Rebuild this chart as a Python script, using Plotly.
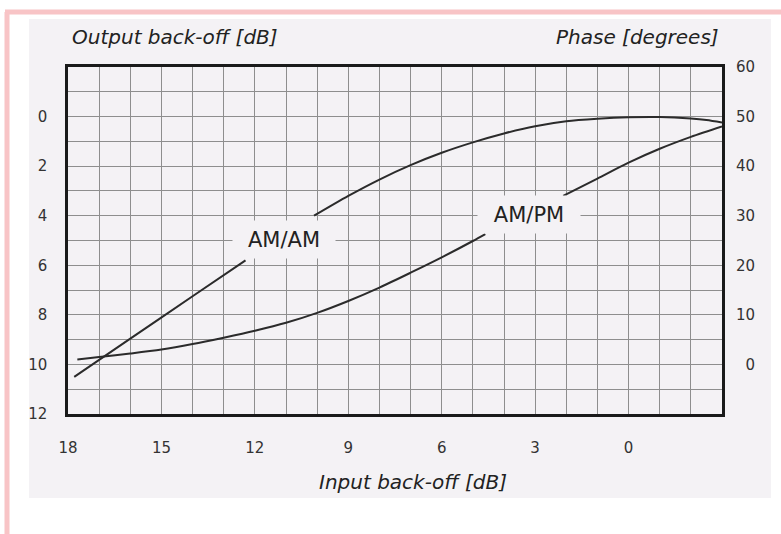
import plotly.graph_objects as go

# ---- data ----
input_backoff_amam = [17.8, 16, 14, 12.3, None, 10.1, 9, 8, 7, 6, 5, 4, 3, 2, 1, 0, -1, -2, -2.5, -3]
output_backoff = [10.5, 8.96, 7.25, 5.8, None, 4.0, 3.2, 2.54, 1.96, 1.46, 1.04, 0.68, 0.39, 0.19, 0.09, 0.03, 0.02, 0.08, 0.14, 0.24]

input_backoff_ampm = [17.7, 17, 16, 15, 14, 13, 12, 11, 10, 9, 8, 7, 6, 5, 4.6, None, 2.1, 1, 0, -1, -2, -3]
phase_deg = [1.0, 1.5, 2.2, 3.0, 4.1, 5.4, 6.8, 8.4, 10.4, 12.8, 15.5, 18.5, 21.6, 24.9, 26.3, None, 34.0, 37.5, 40.7, 43.5, 45.9, 48.0]

x_ticks = [18, 15, 12, 9, 6, 3, 0]
y_left_ticks = [0, 2, 4, 6, 8, 10, 12]
y_right_ticks = [0, 10, 20, 30, 40, 50, 60]

BG = "#f4f2f5"
INK = "#2b2b2b"
GRID = "#8e8e8e"
FONT = "DejaVu Sans"

fig = go.Figure()
fig.add_trace(go.Scatter(x=input_backoff_amam, y=output_backoff, mode="lines",
                         line=dict(color=INK, width=2, shape="spline", smoothing=0.8),
                         connectgaps=False, name="AM/AM", yaxis="y"))
fig.add_trace(go.Scatter(x=input_backoff_ampm, y=phase_deg, mode="lines",
                         line=dict(color=INK, width=2, shape="spline", smoothing=0.8),
                         connectgaps=False, name="AM/PM", yaxis="y2"))

W, H = 781, 534
L, R, T, B = 68, 722, 67, 414
def px(xp):
    return (xp - L) / (R - L)
def py(yp):
    return (B - yp) / (B - T)

fig.update_layout(
    width=W, height=H,
    margin=dict(l=L, r=W - R, t=T, b=H - B, pad=0),
    paper_bgcolor="white", plot_bgcolor=BG,
    showlegend=False,
    font=dict(family=FONT, size=15, color="#333333"),
    xaxis=dict(range=[18, -3], tickmode="array", tickvals=x_ticks,
               ticktext=[str(v) for v in x_ticks],
               showgrid=True, gridcolor=GRID, gridwidth=1,
               minor=dict(tickmode="linear", tick0=0, dtick=1, showgrid=True,
                          gridcolor=GRID, gridwidth=1),
               showline=True, linecolor="#1a1a1a", linewidth=2.5, mirror=True,
               ticks="", ticklabelstandoff=18, zeroline=False),
    yaxis=dict(range=[12, -2], tickmode="array", tickvals=y_left_ticks,
               showgrid=True, gridcolor=GRID, gridwidth=1,
               minor=dict(tickmode="linear", tick0=0, dtick=1, showgrid=True,
                          gridcolor=GRID, gridwidth=1),
               showline=True, linecolor="#1a1a1a", linewidth=2.5, mirror=True,
               ticks="", ticklabelstandoff=15, zeroline=False),
    yaxis2=dict(range=[-10, 60], overlaying="y", side="right",
                tickmode="array", tickvals=y_right_ticks,
                ticktext=["\u2007" + str(v) if v < 10 else str(v) for v in y_right_ticks],
                showgrid=False, showline=False, zeroline=False,
                ticks="", ticklabelstandoff=13),
)

shapes = [
    # scanned page area
    dict(type="rect", xref="paper", yref="paper", x0=px(29), x1=px(771), y0=py(498), y1=py(19),
         fillcolor=BG, line=dict(width=0), layer="below"),
    # pink frame
    dict(type="line", xref="paper", yref="paper", x0=px(7), x1=px(7), y0=py(12), y1=py(534),
         line=dict(color="#f8c4c6", width=5), layer="below"),
    dict(type="line", xref="paper", yref="paper", x0=px(5), x1=px(781), y0=py(12), y1=py(12),
         line=dict(color="#f8c4c6", width=5), layer="below"),
]
fig.update_layout(shapes=shapes)

ann = [
    dict(text="<i>Output back-off [dB]</i>", xref="paper", yref="paper", x=px(70), y=py(37),
         xanchor="left", yanchor="middle", showarrow=False, font=dict(size=20, color="#222")),
    dict(text="<i>Phase [degrees]</i>", xref="paper", yref="paper", x=px(721), y=py(37),
         xanchor="right", yanchor="middle", showarrow=False, font=dict(size=20, color="#222")),
    dict(text="<i>Input back-off [dB]</i>", xref="paper", yref="paper", x=px(413), y=py(482),
         xanchor="center", yanchor="middle", showarrow=False, font=dict(size=20, color="#222")),
    dict(text="AM/AM", xref="x", yref="y", x=11.05, y=4.95, showarrow=False,
         bgcolor=BG, width=96, height=31, borderpad=3, font=dict(size=21, color="#222")),
    dict(text="AM/PM", xref="x", yref="y2", x=3.2, y=30.2, showarrow=False,
         bgcolor=BG, width=96, height=31, borderpad=3, font=dict(size=21, color="#222")),
]
fig.update_layout(annotations=ann)

fig.write_html("out.html", config={"displayModeBar": False},
               post_script="document.body.style.margin='0';")
